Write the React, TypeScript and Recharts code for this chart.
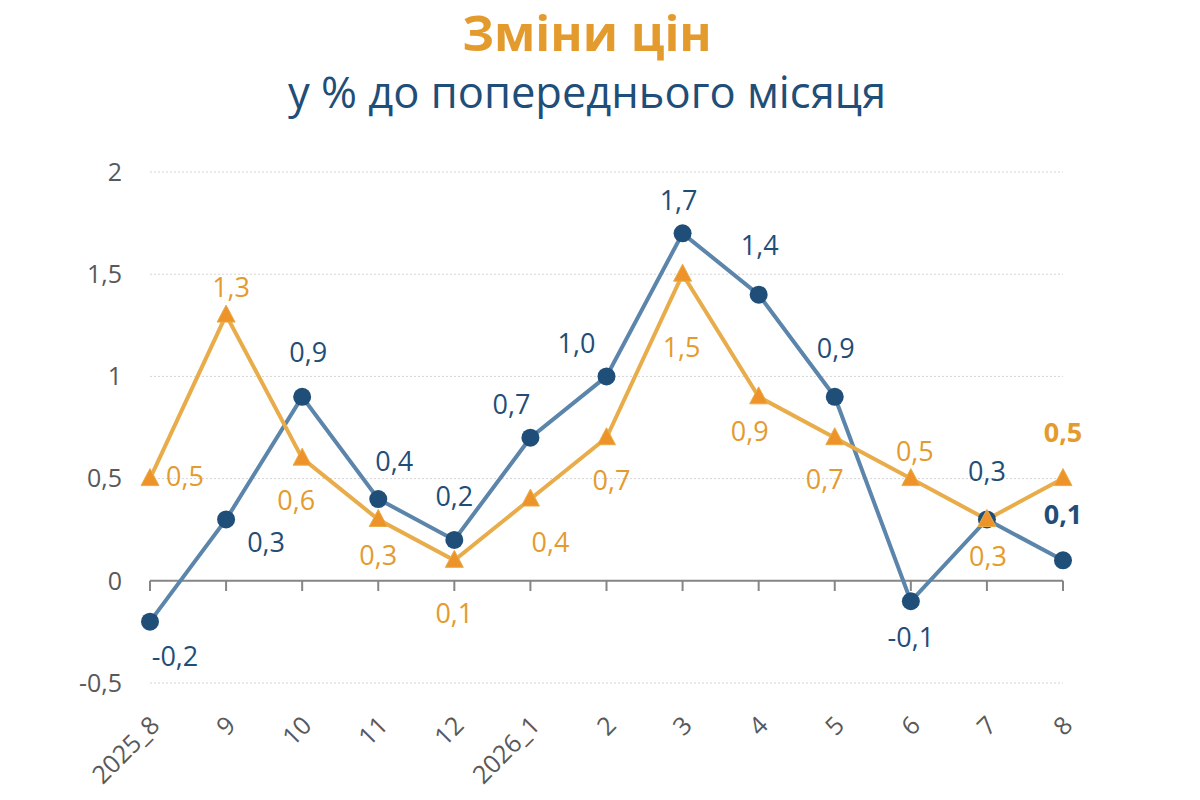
import React from "react";
import {
  LineChart,
  Line,
  XAxis,
  YAxis,
  CartesianGrid,
  ReferenceLine,
  LabelList,
} from "recharts";

// місяці
const months = ["2025_8", "9", "10", "11", "12", "2026_1", "2", "3", "4", "5", "6", "7", "8"];
const blueValues = [-0.2, 0.3, 0.9, 0.4, 0.2, 0.7, 1.0, 1.7, 1.4, 0.9, -0.1, 0.3, 0.1];
const orangeValues = [0.5, 1.3, 0.6, 0.3, 0.1, 0.4, 0.7, 1.5, 0.9, 0.7, 0.5, 0.3, 0.5];
const yTicks = [-0.5, 0, 0.5, 1, 1.5, 2];

// label placement (px offsets from the marker)
const blueLabelOffsets = [
  [25, 34], [40, 22], [6, -45], [16, -39], [0, -44], [-19, -34], [-30, -34],
  [-4, -34], [1, -50], [1, -49], [0, 35], [0, -49], [0, -47],
];
const orangeLabelOffsets = [
  [35, -3], [5, -29], [-6, 41], [0, 35], [0, 52], [20, 42], [5, 42],
  [-1, 72], [-9, 34], [-10, 41], [4, -28], [1, 36], [0, -47],
];

const data = months.map((m, i) => ({
  month: m,
  blue: blueValues[i],
  orange: orangeValues[i],
}));

const FONT = "'Open Sans', 'Noto Sans', sans-serif";
const BLUE_DARK = "#1F4E79";
const BLUE_LINE = "#5B85AA";
const ORANGE_TEXT = "#E49B2E";
const ORANGE_LINE = "#E8AD4A";
const ORANGE_MARK = "#EE9329";
const AXIS_GRAY = "#868686";
const TICK_GRAY = "#595959";

const fmt = (v: number) => v.toFixed(1).replace(".", ",");
const fmtTick = (v: number) => String(v).replace(".", ",");

function makeLabel(offsets: number[][], color: string) {
  return (props: any) => {
    const { x, y, value, index } = props;
    const [dx, dy] = offsets[index] || [0, -30];
    const last = index === months.length - 1;
    return (
      <text
        x={x + dx}
        y={y + dy}
        textAnchor="middle"
        dominantBaseline="central"
        fill={color}
        fontFamily={FONT}
        fontSize={27}
        fontWeight={last ? 700 : 400}
      >
        {fmt(value)}
      </text>
    );
  };
}

const BlueDot = (props: any) => {
  const { cx, cy, index } = props;
  return <circle key={`b${index}`} cx={cx} cy={cy} r={9} fill={BLUE_DARK} />;
};

const TriangleDot = (props: any) => {
  const { cx, cy, index } = props;
  return (
    <path
      key={`o${index}`}
      d={`M${cx},${cy - 10} L${cx + 9},${cy + 7} L${cx - 9},${cy + 7} Z`}
      fill={ORANGE_MARK}
      stroke={ORANGE_LINE}
      strokeWidth={1}
    />
  );
};

const MonthTick = (props: any) => {
  const { x, y, payload } = props;
  return (
    <text
      transform={`translate(${x + 11},${y + 44}) rotate(-45)`}
      textAnchor="end"
      fill={TICK_GRAY}
      fontFamily={FONT}
      fontSize={25}
    >
      {payload.value}
    </text>
  );
};

export default function App() {
  return (
    <div style={{ position: "relative", width: 1184, height: 790, fontFamily: FONT }}>
      <div
        style={{
          position: "absolute",
          top: -9,
          left: 0,
          width: 1158,
          textAlign: "center",
          color: ORANGE_TEXT,
          fontSize: 49,
          fontWeight: 700,
          lineHeight: "66px",
        }}
      >
        Зміни цін
      </div>
      <div
        style={{
          position: "absolute",
          top: 54,
          left: 0,
          width: 1158,
          textAlign: "center",
          color: BLUE_DARK,
          fontSize: 43.5,
          lineHeight: "60px",
        }}
      >
        у % до попереднього місяця
      </div>
      <LineChart
        width={1184}
        height={790}
        data={data}
        margin={{ top: 164, right: 129, bottom: 15, left: 52 }}
      >
        <CartesianGrid vertical={false} stroke="#D4D4D4" strokeDasharray="2 2" />
        <XAxis
          dataKey="month"
          axisLine={false}
          tickLine={false}
          tickSize={0}
          tickMargin={0}
          height={100}
          interval={0}
          tick={<MonthTick />}
        />
        <YAxis
          domain={[-0.5, 2]}
          ticks={yTicks}
          axisLine={false}
          tickLine={false}
          tickSize={0}
          tickMargin={28}
          width={90}
          tickFormatter={fmtTick}
          tick={{ fill: TICK_GRAY, fontFamily: FONT, fontSize: 25 }}
        />
        <ReferenceLine y={0} stroke={AXIS_GRAY} strokeWidth={2} />
        {months.map((m) => (
          <ReferenceLine
            key={`t${m}`}
            segment={[
              { x: m, y: 0 },
              { x: m, y: -0.05 },
            ]}
            stroke={AXIS_GRAY}
            strokeWidth={2}
          />
        ))}
        <Line
          type="linear"
          dataKey="blue"
          stroke={BLUE_LINE}
          strokeWidth={4}
          dot={BlueDot}
          activeDot={false}
          isAnimationActive={false}
        >
          <LabelList dataKey="blue" content={makeLabel(blueLabelOffsets, BLUE_DARK)} />
        </Line>
        <Line
          type="linear"
          dataKey="orange"
          stroke={ORANGE_LINE}
          strokeWidth={4}
          dot={TriangleDot}
          activeDot={false}
          isAnimationActive={false}
        >
          <LabelList dataKey="orange" content={makeLabel(orangeLabelOffsets, ORANGE_TEXT)} />
        </Line>
      </LineChart>
    </div>
  );
}
